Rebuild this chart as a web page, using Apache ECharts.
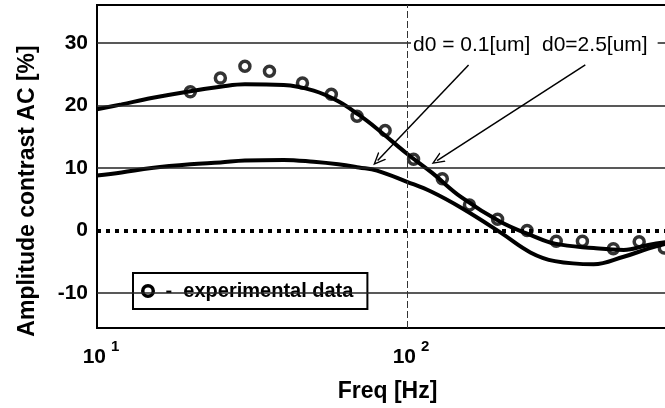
<!DOCTYPE html>
<html>
<head>
<meta charset="utf-8">
<script src="https://cdn.jsdelivr.net/npm/echarts@6/dist/echarts.min.js"></script>
<style>
  html, body { margin: 0; padding: 0; background: #fff; }
  #chart { width: 665px; height: 408px; }
</style>
</head>
<body>
<div id="chart"></div>
<script>
// frequency grid of the two model curves [Hz]
const freqs = [10, 12, 15, 20, 25, 30, 40, 50, 60, 70, 80, 100, 120, 150, 200, 250, 300, 400, 500, 600, 700, 800, 1000];
// d0 = 2.5 um (upper curve)
const acThick = [19.4, 20.2, 21.2, 22.3, 23.0, 23.4, 23.3, 22.4, 20.7, 18.5, 16.3, 12.3, 9.3, 5.3, 1.4, -0.7, -2.1, -2.8, -3.1, -2.3, -1.8, -1.5, -1.2];
// d0 = 0.1 um (lower curve)
const acThin = [8.8, 9.3, 10.0, 10.6, 10.9, 11.2, 11.3, 11.0, 10.6, 10.1, 9.6, 7.8, 6.2, 3.6, -0.3, -3.5, -4.9, -5.4, -4.2, -2.9, -2.0, -1.5, -0.8];
// experimental points
const expFreq = [20, 25, 30, 36, 46, 57, 69, 85, 105, 130, 159, 196, 244, 303, 368, 463, 561, 676];
const expAC = [22.2, 24.4, 26.3, 25.5, 23.6, 21.8, 18.3, 16.0, 11.4, 8.3, 4.1, 1.8, 0.0, -1.7, -1.7, -2.9, -1.8, -2.8];
// axis ticks
const yTicks = [-10, 0, 10, 20, 30];
const yGrid = [-10, 10, 20, 30];

const FONT = 'Liberation Sans, Arial, sans-serif';
// ring shaped legend icon (outer r=7, hole r=3.5)
const RING = 'path://M0,7A7,7,0,1,1,14,7A7,7,0,1,1,0,7ZM3.5,7A3.5,3.5,0,1,0,10.5,7A3.5,3.5,0,1,0,3.5,7Z';

function pairs(xs, ys) {
  return xs.map((x, i) => [x, ys[i]]);
}

let chart = echarts.init(document.getElementById('chart'));

let option = {
  animation: false,
  backgroundColor: '#fff',
  grid: {
    left: 97,
    top: 5,
    width: 620,
    bottom: 80,
    outerBoundsMode: 'none',
    containLabel: false,
    show: true,
    backgroundColor: '#fff',
    borderColor: '#000',
    borderWidth: 2
  },
  xAxis: {
    type: 'log',
    logBase: 10,
    min: 10,
    max: 1000,
    axisLine: { onZero: false, lineStyle: { color: '#000', width: 2 } },
    axisTick: { show: false },
    minorTick: { show: false },
    splitLine: { show: false },
    axisLabel: {
      margin: 11,
      padding: [0, 0, 0, 8],
      formatter: function (v) {
        return '{b|10}{s|' + Math.round(Math.log10(v)) + '}';
      },
      rich: {
        b: { fontSize: 21, fontWeight: 'bold', fontFamily: FONT, color: '#000' },
        s: { fontSize: 15, fontWeight: 'bold', fontFamily: FONT, color: '#000', padding: [0, 0, 22, 5] }
      }
    },
    name: 'Freq [Hz]',
    nameLocation: 'middle',
    nameGap: 52,
    nameTextStyle: { fontSize: 23, fontWeight: 'bold', fontFamily: FONT, color: '#000', padding: [0, 39, 0, 0] }
  },
  yAxis: {
    type: 'value',
    min: -15.6,
    max: 36.1,
    axisLine: { show: true, onZero: false, lineStyle: { color: '#000', width: 2 } },
    axisTick: { show: false },
    splitLine: { show: false },
    axisLabel: {
      customValues: yTicks,
      margin: 9,
      fontSize: 21,
      fontWeight: 'bold',
      fontFamily: FONT,
      color: '#000'
    },
    name: 'Amplitude contrast AC [%]',
    nameLocation: 'middle',
    nameGap: 58,
    nameTextStyle: { fontSize: 23, fontWeight: 'bold', fontFamily: FONT, color: '#000', padding: [0, 49, 0, 0] }
  },
  legend: {
    data: [{ name: 'experimental data', icon: RING }],
    left: 133,
    top: 273,
    orient: 'horizontal',
    padding: [8, 14, 8, 8],
    itemWidth: 14,
    itemHeight: 14,
    backgroundColor: '#fff',
    borderColor: '#000',
    borderWidth: 2,
    borderRadius: 0,
    formatter: ' -  {name}',
    itemStyle: { color: '#000', borderWidth: 0, opacity: 1 },
    textStyle: { fontSize: 20, fontWeight: 'bold', fontFamily: FONT, color: '#000' }
  },
  graphic: [
    {
      type: 'text',
      left: 411,
      top: 33,
      z: 100,
      style: {
        text: 'd0 = 0.1[um]  d0=2.5[um]',
        fontSize: 21,
        fontFamily: FONT,
        fill: '#000',
        backgroundColor: '#fff',
        padding: [2, 10, 2, 2]
      }
    }
  ],
  series: [
    {
      name: 'grid',
      type: 'line',
      data: [],
      z: 1,
      silent: true,
      markLine: {
        silent: true,
        symbol: 'none',
        label: { show: false },
        data: [
          ...yGrid.map(v => ({ yAxis: v, lineStyle: { color: '#222', width: 1.5, type: 'solid' } })),
          { xAxis: 100, lineStyle: { color: '#333', width: 1, type: [7, 3] } }
        ]
      }
    },
    {
      name: 'zero',
      type: 'line',
      data: [],
      z: 2,
      silent: true,
      markLine: {
        silent: true,
        symbol: 'none',
        label: { show: false },
        lineStyle: { color: '#000', width: 4, type: [4, 5] },
        data: [{ yAxis: 0 }]
      }
    },
    {
      name: 'd0=0.1[um]',
      type: 'line',
      data: pairs(freqs, acThin),
      smooth: 0.4,
      showSymbol: false,
      z: 3,
      lineStyle: { color: '#000', width: 4 }
    },
    {
      name: 'd0=2.5[um]',
      type: 'line',
      data: pairs(freqs, acThick),
      smooth: 0.4,
      showSymbol: false,
      z: 3,
      lineStyle: { color: '#000', width: 4 }
    },
    {
      name: 'experimental data',
      type: 'scatter',
      data: pairs(expFreq, expAC),
      symbol: 'circle',
      symbolSize: 10,
      z: 4,
      itemStyle: { color: 'rgba(0,0,0,0)', borderColor: '#000', borderWidth: 3.5 }
    },
    {
      name: 'arrows',
      type: 'line',
      data: [],
      z: 5,
      silent: true,
      markLine: {
        silent: true,
        symbol: ['none', 'path://M0,0L6,12L4.4,12L0,3.2L-4.4,12L-6,12Z'],
        symbolSize: [11, 13],
        label: { show: false },
        lineStyle: { color: '#000', width: 1.5, type: 'solid' },
        data: [
          [{ coord: [158, 26.5] }, { coord: [80.4, 11.2] }],
          [{ coord: [376, 26.5] }, { coord: [125, 11.2] }]
        ]
      }
    }
  ]
};

chart.setOption(option);
</script>
</body>
</html>
